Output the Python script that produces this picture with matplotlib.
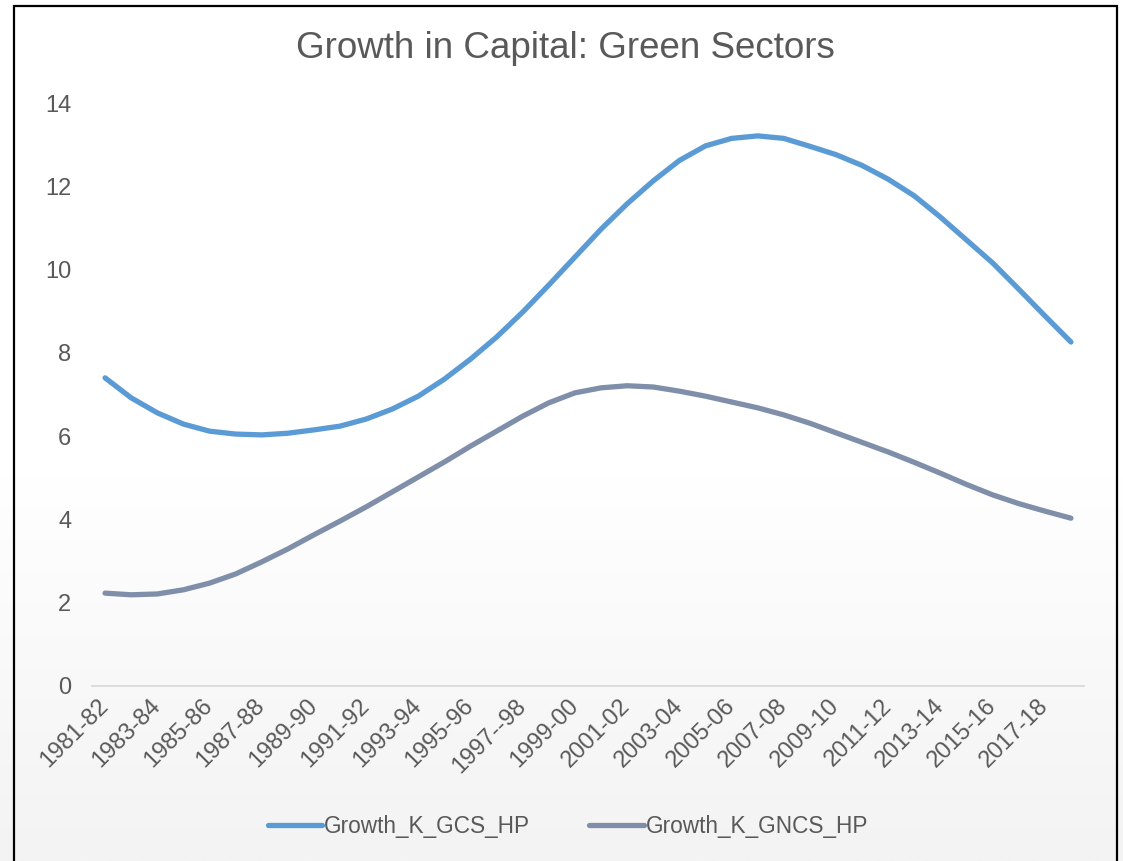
import matplotlib
matplotlib.use("Agg")
import matplotlib.pyplot as plt
import numpy as np
from matplotlib.colors import LinearSegmentedColormap

plt.rcParams['font.family'] = ['Liberation Sans', 'DejaVu Sans']

years = [f"{y}-{str(y + 1)[-2:]}" for y in range(1981, 2019)]
years[16] = "1997--98"

growth_k_gcs_hp = [7.40, 6.92, 6.56, 6.29, 6.12, 6.05, 6.03, 6.07, 6.15, 6.24,
                   6.41, 6.65, 6.96, 7.37, 7.85, 8.38, 8.98, 9.63, 10.30, 10.97,
                   11.58, 12.13, 12.62, 12.97, 13.15, 13.21, 13.15, 12.96, 12.76, 12.50,
                   12.17, 11.77, 11.26, 10.71, 10.16, 9.53, 8.89, 8.26]
growth_k_gncs_hp = [2.23, 2.19, 2.21, 2.31, 2.47, 2.69, 2.98, 3.29, 3.63, 3.96,
                    4.30, 4.66, 5.02, 5.38, 5.76, 6.12, 6.48, 6.80, 7.04, 7.16,
                    7.21, 7.18, 7.08, 6.96, 6.82, 6.68, 6.51, 6.31, 6.08, 5.85,
                    5.62, 5.37, 5.11, 4.84, 4.59, 4.38, 4.20, 4.03]

series_names = ["Growth_K_GCS_HP", "Growth_K_GNCS_HP"]
series_colors = ["#5B9BD5", "#7F8FAA"]
text_color = "#595959"

W, H = 1123, 861
fig = plt.figure(figsize=(W / 100, H / 100), dpi=100)

# soft vertical background gradient: white on top, light grey at the bottom
bg = fig.add_axes([0, 0, 1, 1], zorder=-10)
grad = np.linspace(0, 1, 400).reshape(-1, 1)
grad = np.clip((grad - 0.55) / 0.45, 0, 1)
cmap = LinearSegmentedColormap.from_list("bg", ["#FFFFFF", "#F3F3F3"])
bg.imshow(grad, aspect="auto", cmap=cmap, extent=[0, 1, 0, 1], origin="upper", vmin=0, vmax=1)
bg.set_xlim(0, 1)
bg.set_ylim(0, 1)
bg.axis("off")

# chart frame (left, top, right)
fx0, fx1, fy = 13.5 / W, 1117 / W, 1 - 6 / H
bg.plot([fx0, fx0, fx1, fx1], [0, fy, fy, 0], color="#000000", lw=1.6,
        solid_joinstyle="miter", transform=bg.transAxes, clip_on=False)

ax = fig.add_axes([92 / W, (H - 686) / H, (1084 - 92) / W, (686 - 103) / H])
ax.patch.set_alpha(0)

x = np.arange(len(years))
for vals, name, col in zip([growth_k_gcs_hp, growth_k_gncs_hp], series_names, series_colors):
    ax.plot(x, vals, color=col, lw=3.8, solid_capstyle="round",
            solid_joinstyle="round", label=name, clip_on=False)

ax.set_xlim(-0.5, len(years) - 0.5)
ax.set_ylim(0, 14)
ax.set_yticks(np.arange(0, 15, 2))
ax.set_yticklabels([str(v) for v in range(0, 15, 2)])

for s in ["top", "right", "left"]:
    ax.spines[s].set_visible(False)
ax.spines["bottom"].set_color("#D9D9D9")
ax.spines["bottom"].set_linewidth(1.3)

ax.tick_params(axis="y", length=0, pad=15, labelsize=17, labelcolor=text_color)
ax.set_xticks(x[::2])
ax.set_xticklabels(years[::2], rotation=45, ha="right", va="center",
                   rotation_mode="anchor")
ax.tick_params(axis="x", length=0, pad=12, labelsize=17, labelcolor=text_color)

fig.text(565 / W, 1 - 48 / H, "Growth in Capital: Green Sectors", ha="center",
         va="center", fontsize=26.5, color=text_color)

fig.legend(loc="center", bbox_to_anchor=(568 / W, 1 - 826 / H), ncol=2,
           frameon=False, fontsize=16.3, labelcolor=text_color, handlelength=2.4,
           handletextpad=0.1, columnspacing=2.6)

fig.savefig("out.png", dpi=100)
